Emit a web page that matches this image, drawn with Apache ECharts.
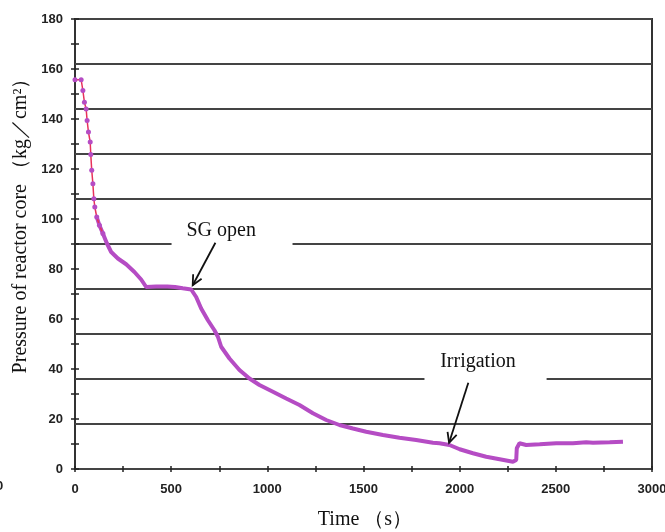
<!DOCTYPE html>
<html>
<head>
<meta charset="utf-8">
<script src="https://cdn.jsdelivr.net/npm/echarts@6/dist/echarts.min.js"></script>
<style>
  html, body { margin: 0; padding: 0; background: #fff; }
  #chart { width: 665px; height: 532px; }
</style>
</head>
<body>
<div id="chart"></div>
<script>
// time (s) and core pressure (kg/cm2)
const times = [0, 32, 41, 49, 58, 63, 70, 79, 82, 87, 93, 98, 103, 113, 127, 145,
  165, 188, 223, 266, 309, 344, 370, 422, 480, 520, 560, 604, 630, 656, 691, 725,
  743, 760, 803, 855, 907, 959, 1029, 1098, 1167, 1237, 1306, 1375, 1445, 1514,
  1601, 1687, 1774, 1861, 1895, 1947, 2000, 2069, 2138, 2208, 2277, 2294, 2297,
  2311, 2346, 2416, 2502, 2589, 2658, 2693, 2780, 2849];
const pressure = [155.7, 155.7, 151.4, 146.7, 144, 139.4, 134.8, 130.8, 125.8, 119.5,
  114.1, 108.1, 104.8, 100.8, 97.5, 94.2, 90.4, 86.8, 84.2, 81.9, 78.8, 75.8, 72.8,
  73.0, 73.0, 72.8, 72.3, 71.8, 68.8, 64.2, 59.5, 55.5, 52.9, 48.9, 44.2, 39.6, 36.2,
  33.6, 30.9, 28.2, 25.6, 22.3, 19.6, 17.6, 16.2, 14.9, 13.6, 12.5, 11.6, 10.5, 10.3,
  9.6, 7.9, 6.3, 4.9, 3.9, 2.9, 3.6, 8.3, 10.3, 9.6, 9.9, 10.3, 10.3, 10.7, 10.5,
  10.7, 10.9];
// first points are the steep drop (thin red line with dots), rest is the thick trace
const steepCount = 16;
const thickFrom = 13;

const xTicks = [0, 500, 1000, 1500, 2000, 2500, 3000];
const yTicks = [0, 20, 40, 60, 80, 100, 120, 140, 160, 180];
const gridStep = 18;

const labelFont = { color: '#222', fontWeight: 'bold', fontSize: 13, fontFamily: 'Liberation Sans' };
const serif = 'Liberation Serif';

const pts = times.map((t, i) => [t, pressure[i]]);

const chart = echarts.init(document.getElementById('chart'));

const tickStyle = { color: '#222', width: 1.5 };

chart.setOption({
  animation: false,
  grid: {
    left: 75, top: 19, right: 13, bottom: 63,
    outerBoundsMode: 'none',
    show: true, borderColor: '#333', borderWidth: 2
  },
  xAxis: {
    // pulled 3px into the plot so the ticks cross the frame line
    type: 'value', min: xTicks[0], max: xTicks[xTicks.length - 1], interval: 500,
    offset: -3,
    axisLine: { show: false },
    axisTick: { show: true, length: 6, lineStyle: tickStyle },
    minorTick: { show: true, splitNumber: 2, length: 6, lineStyle: tickStyle },
    axisLabel: Object.assign({ margin: 17, formatter: v => String(v) }, labelFont),
    splitLine: { show: false }
  },
  yAxis: [
    {
      type: 'value', min: yTicks[0], max: yTicks[yTicks.length - 1], interval: 20,
      offset: -4,
      axisLine: { show: false },
      axisTick: { show: true, length: 8, lineStyle: tickStyle },
      minorTick: { show: true, splitNumber: 2, length: 8, lineStyle: tickStyle },
      axisLabel: Object.assign({ margin: 16 }, labelFont),
      splitLine: { show: false }
    },
    {
      type: 'value', min: 0, max: 180, interval: gridStep,
      position: 'left',
      axisLine: { show: false },
      axisTick: { show: false },
      axisLabel: { show: false },
      splitLine: { show: true, lineStyle: { color: '#444', width: 2 } }
    }
  ],
  series: [
    {
      type: 'line',
      data: pts.slice(thickFrom),
      showSymbol: false,
      lineStyle: { color: '#b54cc4', width: 4 },
      z: 3
    },
    {
      type: 'line',
      data: pts.slice(0, steepCount),
      symbol: 'circle',
      symbolSize: 5,
      itemStyle: { color: '#b54cc4' },
      lineStyle: { color: '#e8305a', width: 1.5 },
      z: 4
    }
  ]
});

// annotations placed from data coordinates
function px(t, v) { return chart.convertToPixel({ xAxisIndex: 0, yAxisIndex: 0 }, [t, v]); }

function arrow(from, to) {
  const dx = to[0] - from[0], dy = to[1] - from[1];
  const ang = Math.atan2(dy, dx);
  const len = 11, spread = 0.45;
  const a1 = [to[0] - len * Math.cos(ang - spread), to[1] - len * Math.sin(ang - spread)];
  const a2 = [to[0] - len * Math.cos(ang + spread), to[1] - len * Math.sin(ang + spread)];
  return [
    { type: 'line', shape: { x1: from[0], y1: from[1], x2: to[0], y2: to[1] },
      style: { stroke: '#111', lineWidth: 1.8 }, z: 20 },
    { type: 'polyline', shape: { points: [a1, to, a2] },
      style: { stroke: '#111', lineWidth: 1.8, fill: null }, z: 20 }
  ];
}

const sgBoxL = px(502, 90), sgBoxR = px(1131, 90);
const irBoxL = px(1817, 36), irBoxR = px(2452, 36);
const sgText = px(760, 95.5);
const irText = px(2095, 42.8);

const graphics = [
  { type: 'rect', shape: { x: sgBoxL[0], y: sgBoxL[1] - 28, width: sgBoxR[0] - sgBoxL[0], height: 30 },
    style: { fill: '#fff' }, z: 10 },
  { type: 'rect', shape: { x: irBoxL[0], y: irBoxL[1] - 32, width: irBoxR[0] - irBoxL[0], height: 34 },
    style: { fill: '#fff' }, z: 10 },
  { type: 'text', x: sgText[0], y: sgText[1], z: 11,
    style: { text: 'SG open', font: '20px ' + serif, fill: '#111', align: 'center', verticalAlign: 'middle' } },
  { type: 'text', x: irText[0], y: irText[1], z: 11,
    style: { text: 'Irrigation', font: '20px ' + serif, fill: '#111', align: 'center', verticalAlign: 'middle' } },
  { type: 'text', x: 365, y: 520, z: 11,
    style: { text: 'Time （s）', font: '20px ' + serif, fill: '#111', align: 'center', verticalAlign: 'middle' } },
  { type: 'text', x: 21, y: 221, rotation: Math.PI / 2, z: 11,
    style: { text: 'Pressure of reactor core （kg／cm²）', font: '20px ' + serif, fill: '#111',
      align: 'center', verticalAlign: 'middle' } },
  { type: 'text', x: -4, y: 486, z: 11,
    style: { text: '0', font: 'bold 13px Liberation Sans', fill: '#222', verticalAlign: 'middle' } }
];

arrow(px(730, 90.5), px(612, 73.5)).forEach(g => graphics.push(g));
arrow(px(2045, 34.5), px(1945, 10.5)).forEach(g => graphics.push(g));

chart.setOption({ graphic: graphics });
</script>
</body>
</html>
